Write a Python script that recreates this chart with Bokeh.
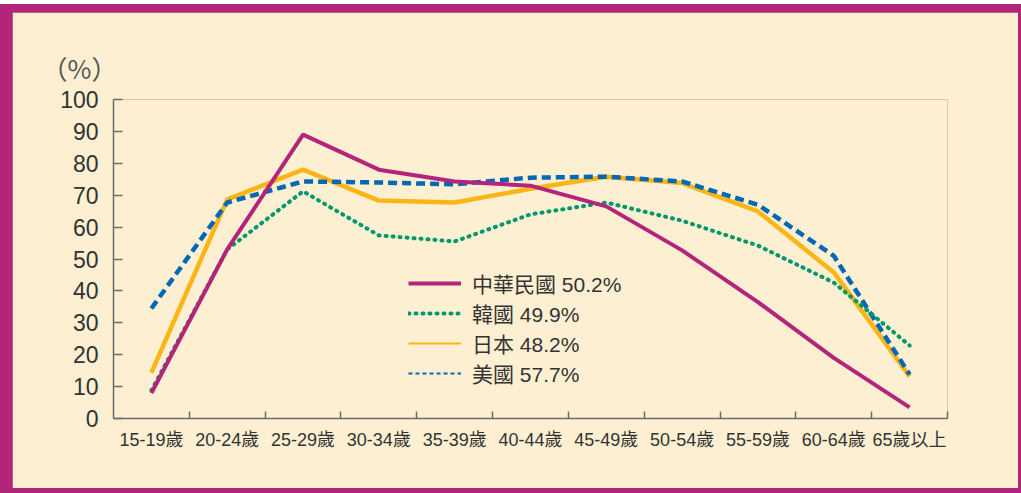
from bokeh.plotting import figure
from bokeh.models import FixedTicker, Legend, LegendItem, Range1d
from bokeh.layouts import column
from bokeh.embed import file_html
from bokeh.resources import INLINE

categories = ["15-19歲", "20-24歲", "25-29歲", "30-34歲", "35-39歲", "40-44歲",
              "45-49歲", "50-54歲", "55-59歲", "60-64歲", "65歲以上"]
roc = [8, 53, 89, 78, 74.3, 73, 66.5, 52.7, 36.5, 19, 3.5]
korea = [8.8, 53, 71.2, 57.4, 55.5, 64, 67.7, 62, 54.2, 42.6, 22.9]
japan = [14.4, 68.7, 78, 68.3, 67.7, 72, 75.8, 73.8, 64.9, 45.8, 13.2]
usa = [34.5, 67.7, 74.3, 74, 73.4, 75.5, 75.8, 74.3, 67, 51, 13.8]
legend_labels = ["中華民國 50.2%", "韓國 49.9%", "日本 48.2%", "美國 57.7%"]
y_ticks = list(range(0, 101, 10))
unit_label = "（%）"

MAGENTA = "#B3247B"
CREAM = "#FDEFD2"
ORANGE = "#FDB515"
GREEN = "#00976A"
BLUE = "#0068B5"
AXIS = "#6B6B6B"
TEXT = "#333333"
FONT = "'Liberation Sans', 'Noto Sans CJK TC'"
CJK = "'Noto Sans CJK TC'"

n = len(categories)
xc = [i + 0.5 for i in range(n)]

p = figure(width=1006, height=476, x_range=Range1d(0, n), y_range=Range1d(0, 100),
           output_backend="svg", toolbar_location=None,
           min_border_left=101, min_border_right=71, min_border_top=87, min_border_bottom=70,
           background_fill_color=CREAM, border_fill_color=CREAM, outline_line_color=None)
p.grid.visible = False

# unit label as title
p.title.text = unit_label
p.title.align = "left"
p.title.offset = -72
p.title.standoff = 27
p.title.text_font = CJK
p.title.text_font_size = "26px"
p.title.text_font_style = "normal"
p.title.text_color = "#555555"

# y axis
ya = p.yaxis[0]
ya.ticker = FixedTicker(ticks=y_ticks)
ya.major_tick_in = 9
ya.major_tick_out = 0
ya.minor_tick_line_color = None
ya.axis_line_color = AXIS
ya.axis_line_width = 1.5
ya.major_tick_line_color = AXIS
ya.major_tick_line_width = 1.5
ya.major_label_text_font = FONT
ya.major_label_text_font_size = "23px"
ya.major_label_text_color = TEXT
ya.major_label_standoff = 15

# x axis
xa = p.xaxis[0]
xa.ticker = FixedTicker(ticks=xc, minor_ticks=list(range(1, n + 1)))
xa.major_label_overrides = {c: lab for c, lab in zip(xc, categories)}
xa.major_tick_in = 0
xa.major_tick_out = 0
xa.minor_tick_in = 7
xa.minor_tick_out = 0
xa.minor_tick_line_color = AXIS
xa.minor_tick_line_width = 1.5
xa.axis_line_color = AXIS
xa.axis_line_width = 1.5
xa.major_label_text_font = FONT
xa.major_label_text_font_size = "18px"
xa.major_label_text_color = TEXT
xa.major_label_standoff = 11

# data lines
p.line(xc, japan, line_color=ORANGE, line_width=4.5)
p.line(xc, usa, line_color=BLUE, line_width=4.5, line_dash="9 5")
p.line(xc, korea, line_color=GREEN, line_width=4, line_dash="1 6", line_cap="round")
p.line(xc, roc, line_color=MAGENTA, line_width=4)

# legend proxies (kept outside the visible range)
hx = [-5, -4]
hy = [-50, -50]
l1 = p.line(hx, hy, line_color=MAGENTA, line_width=4)
l2 = p.line(hx, hy, line_color=GREEN, line_width=4, line_dash="1 6", line_cap="round")
l3 = p.line(hx, hy, line_color=ORANGE, line_width=2)
l4 = p.line(hx, hy, line_color=BLUE, line_width=2, line_dash="4 3")

legend = Legend(items=[LegendItem(label=legend_labels[0], renderers=[l1]),
                       LegendItem(label=legend_labels[1], renderers=[l2]),
                       LegendItem(label=legend_labels[2], renderers=[l3]),
                       LegendItem(label=legend_labels[3], renderers=[l4])],
                location=(295, 30), glyph_width=53, glyph_height=28, label_height=28,
                spacing=0, padding=0, margin=0, label_standoff=11,
                border_line_color=None, background_fill_alpha=0,
                label_text_font=FONT, label_text_font_size="21px", label_text_color=TEXT)
p.add_layout(legend)

layout = column(p, styles={"background-color": MAGENTA, "padding": "8px 3px 5px 12px",
                           "margin-top": "4px"})

open("out.html", "w").write(file_html(layout, INLINE))
